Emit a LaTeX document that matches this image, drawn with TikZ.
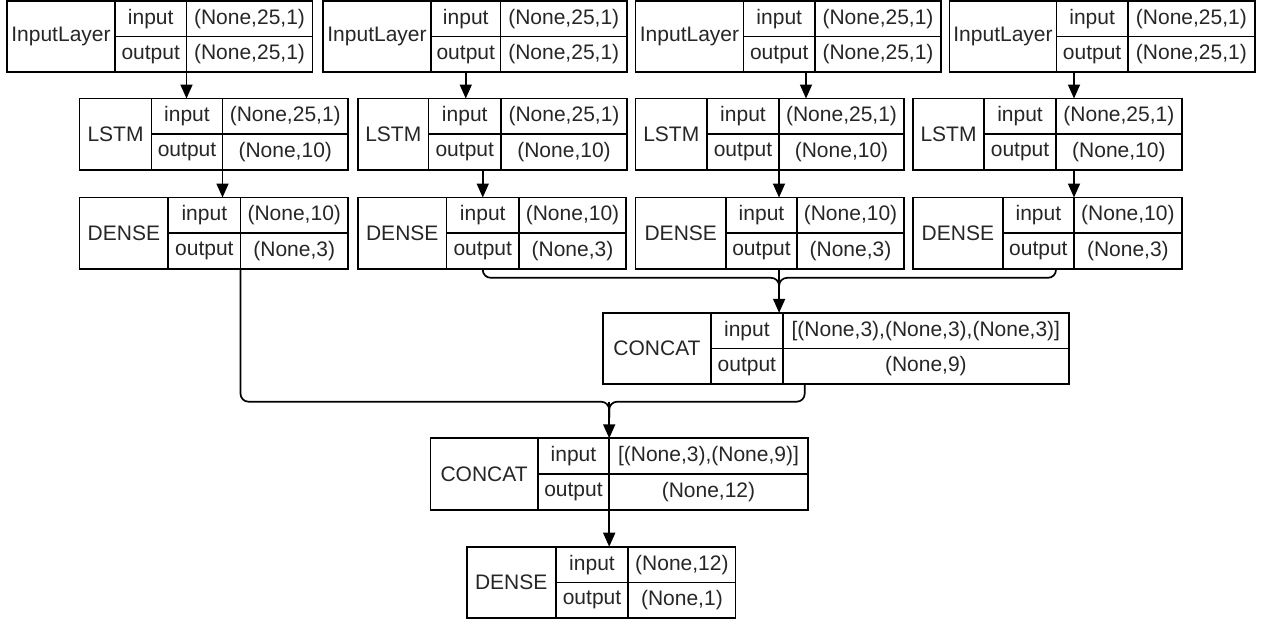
\documentclass[tikz,border=0pt]{standalone}
\usepackage{fontspec}
\setmainfont{Liberation Sans}
\usetikzlibrary{arrows.meta}

\newcommand{\cellfont}{\fontsize{10.5}{12}\selectfont}
% name, left, top, first divider, second divider, right, label, input, output
\newcommand{\layerbox}[9]{%
  \node[cell, minimum width={(#4-#2)*0.5pt}, minimum height=35.75pt] (#1-l) at (#2,#3) {#7};
  \node[cell, minimum width={(#5-#4)*0.5pt}, minimum height=17.875pt] (#1-i) at (#4,#3) {input};
  \node[cell, minimum width={(#5-#4)*0.5pt}, minimum height=17.875pt] (#1-o) at (#1-i.south west) {output};
  \node[cell, minimum width={(#6-#5)*0.5pt}, minimum height=17.875pt] (#1-iv) at (#1-i.north east) {#8};
  \node[cell, minimum width={(#6-#5)*0.5pt}, minimum height=17.875pt] (#1-ov) at (#1-iv.south west) {#9};
}

\begin{document}
\begin{tikzpicture}[x=0.5pt,y=-0.5pt,
    cell/.style={draw, line width=0.85pt, inner sep=0pt, outer sep=0pt, anchor=north west, font=\cellfont, text=black!85},
    arr/.style={line width=0.85pt, -{Triangle[width=6pt,length=7pt]}},
    link/.style={line width=0.85pt, rounded corners=4pt}]
    \useasboundingbox (0,0) rectangle (1261,623);

    % input branches
    \layerbox{in1}{7}{0.8}{115}{186.5}{312.5}{InputLayer}{(None,25,1)}{(None,25,1)}
    \layerbox{in2}{323}{0.8}{431}{500.5}{627}{InputLayer}{(None,25,1)}{(None,25,1)}
    \layerbox{in3}{635.5}{0.8}{743.5}{815}{941}{InputLayer}{(None,25,1)}{(None,25,1)}
    \layerbox{in4}{949.5}{0.8}{1056.5}{1127.7}{1255}{InputLayer}{(None,25,1)}{(None,25,1)}

    \layerbox{ls1}{79.6}{98.5}{151.5}{222.5}{348}{LSTM}{(None,25,1)}{(None,10)}
    \layerbox{ls2}{358}{98.5}{428.5}{501}{627}{LSTM}{(None,25,1)}{(None,10)}
    \layerbox{ls3}{635.5}{98.5}{707}{779}{904}{LSTM}{(None,25,1)}{(None,10)}
    \layerbox{ls4}{913}{98.5}{984}{1056}{1181.7}{LSTM}{(None,25,1)}{(None,10)}

    \layerbox{de1}{79.6}{197.5}{168.2}{240.5}{348}{DENSE}{(None,10)}{(None,3)}
    \layerbox{de2}{358}{197.5}{446.5}{519}{626}{DENSE}{(None,10)}{(None,3)}
    \layerbox{de3}{635.5}{197.5}{726}{797}{904}{DENSE}{(None,10)}{(None,3)}
    \layerbox{de4}{913}{197.5}{1002.7}{1074}{1181.7}{DENSE}{(None,10)}{(None,3)}

    % merged part
    \layerbox{cc1}{603}{312.8}{711}{782.7}{1069}{CONCAT}{[(None,3),(None,3),(None,3)]}{(None,9)}
    \layerbox{cc2}{430.5}{438.3}{537.7}{609.2}{807.7}{CONCAT}{[(None,3),(None,9)]}{(None,12)}
    \layerbox{de5}{466.7}{546.7}{555.7}{628.3}{735.5}{DENSE}{(None,12)}{(None,1)}

    \draw[arr] (in1-ov.south west) -- (in1-ov.south west |- ls1-l.north);
    \draw[arr] (in2-o.south) -- (in2-o.south |- ls2-l.north);
    \draw[arr] ([xshift=-4.5pt]in3-ov.south west) -- ([xshift=-4.5pt]in3-ov.south west |- ls3-l.north);
    \draw[arr] (de4-iv.north west |- in4-l.south) -- (de4-iv.north west |- ls4-l.north);

    \draw[arr] (ls1-ov.south west) -- (ls1-ov.south west |- de1-l.north);
    \draw[arr] (de2-i.north |- ls2-l.south) -- (de2-i.north);
    \draw[arr] (ls3-ov.south west) -- (ls3-ov.south west |- de3-l.north);
    \draw[arr] (de4-iv.north west |- ls4-l.south) -- (de4-iv.north west);

    \coordinate (j1) at ([xshift=-1.8pt]cc1-iv.north west);
    \coordinate (m1) at ([yshift=-4.4pt]j1 |- de3-l.south);
    \draw[arr] (j1 |- de3-l.south) -- (j1);
    \draw[link] (de2-o.south) |- (m1) -- ([yshift=-8pt]m1);
    \draw[link] (ls4-ov.south west |- de4-l.south) |- (m1) -- ([yshift=-8pt]m1);

    \coordinate (j2) at (cc2-iv.north west);
    \coordinate (m2) at ([yshift=-8.7pt]j2 |- cc1-l.south);
    \draw[arr] (m2) -- (j2);
    \draw[link] (de1-ov.south west) |- (m2) -- ([yshift=-8pt]m2);
    \draw[link] ([xshift=11pt]cc1-ov.south west) |- (m2) -- ([yshift=-8pt]m2);

    \draw[arr] (cc2-ov.south west) -- (cc2-ov.south west |- de5-l.north);
\end{tikzpicture}
\end{document}
